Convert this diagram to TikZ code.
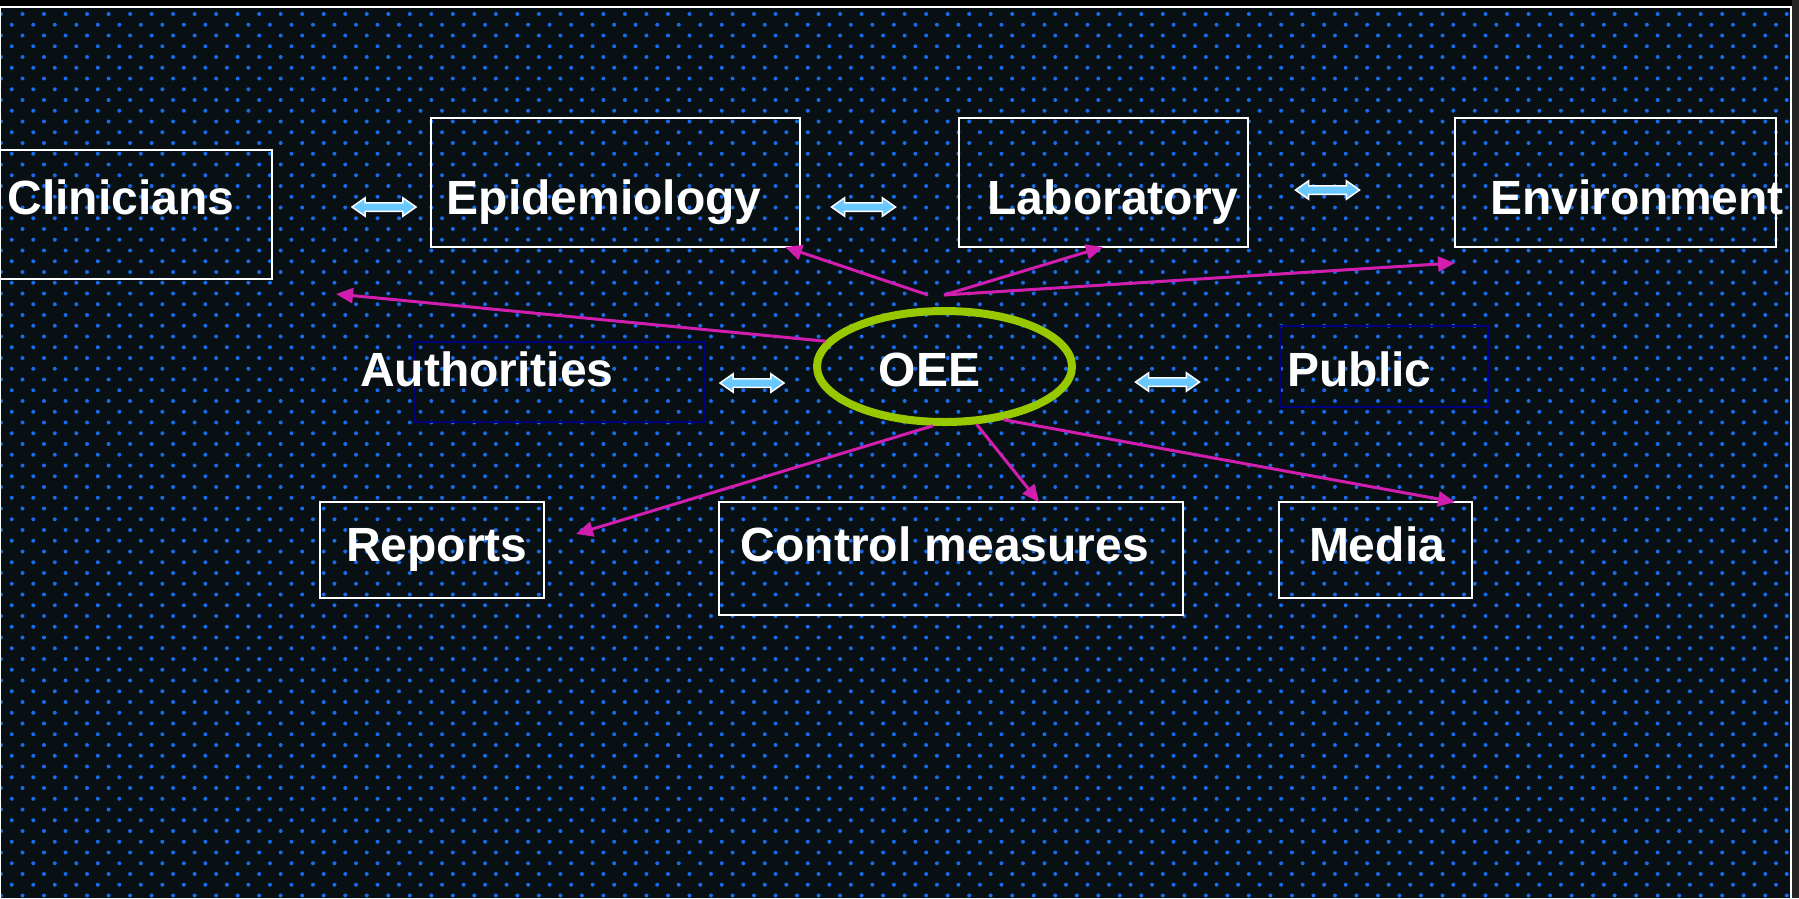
\documentclass[tikz,border=0pt]{standalone}
\usepackage{fontspec}
\setmainfont{Liberation Sans}
\usetikzlibrary{arrows.meta,shapes.geometric,shapes.arrows}

\definecolor{bgdark}{RGB}{8,16,20}
\definecolor{dotblue}{RGB}{22,108,235}
\definecolor{linkpink}{RGB}{210,30,175}
\definecolor{ovalgreen}{RGB}{152,200,0}
\definecolor{twowayblue}{RGB}{105,200,255}
\definecolor{navybox}{RGB}{0,0,128}

\tikzset{
  box/.style={draw=white, line width=2pt, inner sep=0pt},
  darkbox/.style={draw=navybox, line width=1.5pt, inner sep=0pt},
  lbl/.style={text=white, font=\fontsize{48}{56}\selectfont\bfseries, inner sep=0pt, anchor=base},
  oval/.style={ellipse, draw=ovalgreen, line width=8pt, minimum width=255, minimum height=111, inner sep=0pt},
  twoway/.style={double arrow, draw=white, fill=twowayblue, line width=1.5pt, minimum height=64pt,
    text height=7pt, text depth=0pt, text width=0pt, inner sep=0pt,
    double arrow head extend=5pt, double arrow tip angle=70},
  link/.style={draw=linkpink, line width=3pt, ->}
}

\begin{document}
\begin{tikzpicture}[x=1pt,y=-1pt,>={Triangle[length=17pt,width=15pt]}]
\useasboundingbox (0,0) rectangle (1799,898);
% slide background with the dotted pattern
\fill[bgdark] (0,0) rectangle (1799,898);
\foreach \r in {0,...,83}{
  \pgfmathsetmacro\dx{mod(\r,2)*10.75}
  \fill[dotblue] foreach \c in {0,...,83} {(1+\dx+21.515*\c,14+10.75*\r) circle (2pt)};
}
\fill[black] (0,0) rectangle (1799,5.5);
\fill[black!85!white] (1792,0) rectangle (1799,898);
\draw[white, line width=2pt] (0,906) -- (0,6.5) -- (1791,6.5) -- (1791,906);

% boxes
\node[box, minimum width=282, minimum height=129] (clinbox) at (131,214.5) {};
\node[box, minimum width=369, minimum height=129] (epibox) at (615.5,182.5) {};
\node[box, minimum width=289, minimum height=129] (labbox) at (1103.5,182.5) {};
\node[box, minimum width=321, minimum height=129] (envbox) at (1615.5,182.5) {};
\node[darkbox, minimum width=290, minimum height=80] (authbox) at (559,382) {};
\node[darkbox, minimum width=208, minimum height=81] (pubbox) at (1384,366.5) {};
\node[box, minimum width=224, minimum height=96] (repbox) at (432,550) {};
\node[box, minimum width=464, minimum height=113] (ctlbox) at (951,558.5) {};
\node[box, minimum width=193, minimum height=96] (medbox) at (1375.5,550) {};
\node[oval] (oee) at (944.5,366.5) {};

% labels
\node[lbl] (clin) at (121,214) {Clinicians};
\node[lbl] (epi) at (604,214) {Epidemiology};
\node[lbl] (lab) at (1113,214) {Laboratory};
\node[lbl] (env) at (1637,214) {Environment};
\node[lbl] (auth) at (487,386) {Authorities};
\node[lbl] (oeetext) at (929.5,386) {OEE};
\node[lbl] (pub) at (1359.5,386) {Public};
\node[lbl] (rep) at (437,561) {Reports};
\node[lbl] (ctl) at (945,561) {Control measures};
\node[lbl] (med) at (1377,561) {Media};

% two-way exchanges
\node[twoway] (clinepi) at (384,207) {};
\node[twoway] (epilab) at (863.5,207) {};
\node[twoway] (labenv) at (1327.5,190) {};
\node[twoway] (authoee) at (752,383) {};
\node[twoway] (oeepub) at (1167.5,382) {};

% links out of the OEE
\coordinate (hubL) at (928,295);
\coordinate (hub) at (944,295);
\coordinate (toepi) at (785,247);
\coordinate (tolab) at (1103,247);
\coordinate (toenv) at (1455,263);
\coordinate (toclin) at (336,294);
\coordinate (torep) at (576,534);
\coordinate (toctl) at (1039,502);
\coordinate (tomed) at (1455,502);
\draw[link] (hubL) -- (toepi);
\draw[link] (hub) -- (tolab);
\draw[link] (hub) -- (toenv);
\draw[link] (oee.168.6) -- (toclin);
\draw[link] (oee.259) -- (torep);
\draw[link] (oee.299) -- (toctl);
\draw[link] (oee.318) -- (tomed);

\end{tikzpicture}
\end{document}
